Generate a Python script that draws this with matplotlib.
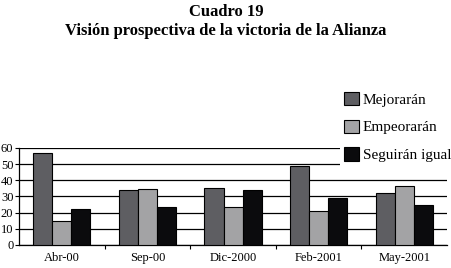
import matplotlib
matplotlib.use("Agg")
import matplotlib.pyplot as plt
import numpy as np

# data
periods = ["Abr-00", "Sep-00", "Dic-2000", "Feb-2001", "May-2001"]
mejoraran = [57, 34, 35, 49, 32]
empeoraran = [15, 34.5, 23.5, 21, 36.5]
seguiran = [22, 23.5, 34, 29, 24.5]
series_names = ["Mejorarán", "Empeorarán", "Seguirán igual"]
colors = ["#5e5e62", "#a3a3a5", "#0b0b0d"]

plt.rcParams['font.family'] = ['Liberation Serif', 'DejaVu Serif']

fig = plt.figure(figsize=(4.52, 2.68), dpi=100)
ax = fig.add_axes([0.042, 0.086, 0.947, 0.362])

x = np.arange(len(periods))
w = 0.222
for i, (vals, name) in enumerate(zip([mejoraran, empeoraran, seguiran], series_names)):
    ax.bar(x + (i - 1) * w, vals, w, color=colors[i], edgecolor="black",
           linewidth=0.8, label=name, zorder=3)

ax.set_xlim(-0.5, len(periods) - 0.5)
ax.set_ylim(0, 60)
ax.set_yticks(range(0, 61, 10))
ax.yaxis.grid(True, color="black", linewidth=0.9, zorder=0)
ax.set_xticks(x)
ax.set_xticklabels(periods, fontsize=9)
ax.set_xticks(np.arange(0.5, len(periods) - 0.5, 1), minor=True)
ax.tick_params(axis="x", which="major", length=0, pad=5)
ax.tick_params(axis="x", which="minor", length=3, width=0.8)
ax.tick_params(axis="y", length=3, width=0.8, labelsize=9, pad=1)
for s in ["top", "right"]:
    ax.spines[s].set_visible(False)
ax.spines["left"].set_linewidth(0.9)
ax.spines["bottom"].set_linewidth(0.9)

leg = fig.legend(loc="upper left", bbox_to_anchor=(0.752, 0.675), fontsize=11,
                 frameon=True, fancybox=False, edgecolor="none", facecolor="white",
                 framealpha=1, handlelength=0.95, handleheight=0.95,
                 handletextpad=0.25, labelspacing=0.85, borderpad=0.3,
                 borderaxespad=0)
leg.set_zorder(10)

fig.text(0.5, 0.957, "Cuadro 19", ha="center", va="center", fontsize=12, fontweight="bold")
fig.text(0.5, 0.885, "Visión prospectiva de la victoria de la Alianza", ha="center",
         va="center", fontsize=12, fontweight="bold")

fig.savefig("out.png", dpi=100)
